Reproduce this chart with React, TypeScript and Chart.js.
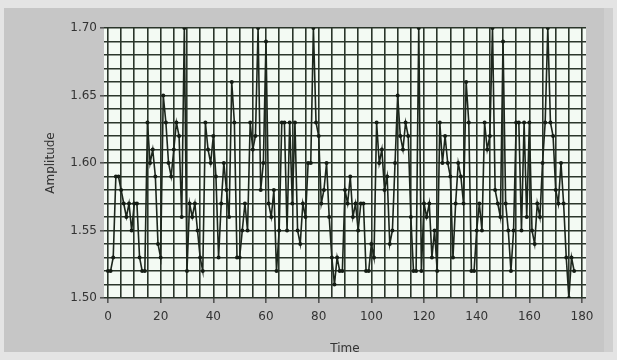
import React, { useEffect, useRef } from "react";
import { Chart, registerables } from "chart.js";

Chart.register(...registerables);

const timeValues: number[] = Array.from({ length: 178 }, (_, i) => i);

const amplitude: number[] = [
  1.52, 1.52, 1.53, 1.59, 1.59, 1.58, 1.57, 1.56, 1.57, 1.55,
  1.57, 1.57, 1.53, 1.52, 1.52, 1.63, 1.60, 1.61, 1.59, 1.54,
  1.53, 1.65, 1.63, 1.60, 1.59, 1.61, 1.63, 1.62, 1.56, 1.70,
  1.52, 1.57, 1.56, 1.57, 1.55, 1.53, 1.52, 1.63, 1.61, 1.60,
  1.62, 1.59, 1.53, 1.57, 1.60, 1.58, 1.56, 1.66, 1.63, 1.53,
  1.53, 1.55, 1.57, 1.55, 1.63, 1.61, 1.62, 1.70, 1.58, 1.60,
  1.69, 1.57, 1.56, 1.58, 1.52, 1.55, 1.63, 1.63, 1.55, 1.63,
  1.57, 1.63, 1.55, 1.54, 1.57, 1.56, 1.60, 1.60, 1.70, 1.63,
  1.62, 1.57, 1.58, 1.60, 1.56, 1.53, 1.51, 1.53, 1.52, 1.52,
  1.58, 1.57, 1.59, 1.56, 1.57, 1.55, 1.57, 1.57, 1.52, 1.52,
  1.54, 1.53, 1.63, 1.60, 1.61, 1.58, 1.59, 1.54, 1.55, 1.60,
  1.65, 1.62, 1.61, 1.63, 1.62, 1.56, 1.52, 1.52, 1.70, 1.52,
  1.57, 1.56, 1.57, 1.53, 1.55, 1.52, 1.63, 1.60, 1.62, 1.60,
  1.59, 1.53, 1.57, 1.60, 1.59, 1.57, 1.66, 1.63, 1.52, 1.52,
  1.55, 1.57, 1.55, 1.63, 1.61, 1.62, 1.70, 1.58, 1.57, 1.56,
  1.69, 1.57, 1.55, 1.52, 1.55, 1.63, 1.63, 1.55, 1.63, 1.56,
  1.63, 1.55, 1.54, 1.57, 1.56, 1.60, 1.63, 1.70, 1.63, 1.62,
  1.58, 1.57, 1.60, 1.57, 1.53, 1.50, 1.53, 1.52,
];

const xMin = -1.5;
const xMax = 181.5;
const xStep = 5;
const xLabelStep = 20;
const yMin = 1.5;
const yMax = 1.7;
const yStep = 0.01;
const yLabelStep = 0.05;

const xTitle = "Time";
const yTitle = "Amplitude";

const isMultiple = (v: number, step: number) => {
  const r = Math.abs(v / step - Math.round(v / step));
  return r < 1e-6;
};

const plotBg = {
  id: "plotBg",
  beforeDraw(chart: any) {
    const { ctx, chartArea } = chart;
    ctx.save();
    ctx.fillStyle = "#f3faf3";
    ctx.fillRect(chartArea.left, chartArea.top, chartArea.right - chartArea.left, chartArea.bottom - chartArea.top);
    ctx.restore();
  },
};

export default function App() {
  const ref = useRef<HTMLCanvasElement>(null);

  useEffect(() => {
    if (!ref.current) return;
    const chart = new Chart(ref.current, {
      type: "line",
      data: {
        datasets: [
          {
            data: timeValues.map((t, i) => ({ x: t, y: amplitude[i] })),
            borderColor: "#1c261c",
            backgroundColor: "#141c14",
            borderWidth: 1.6,
            pointRadius: 2,
            pointBorderWidth: 0,
            tension: 0,
          },
        ],
      },
      options: {
        animation: false,
        responsive: false,
        layout: { padding: { left: 0, right: 31, top: 28, bottom: 0 } },
        plugins: { legend: { display: false }, tooltip: { enabled: false } },
        scales: {
          x: {
            type: "linear",
            min: xMin,
            max: xMax,
            border: { display: false },
            afterFit: (s: any) => {
              s.height = 62;
            },
            ticks: {
              stepSize: xStep,
              includeBounds: false,
              autoSkip: false,
              maxRotation: 0,
              padding: 7,
              color: "#333",
              font: { family: "DejaVu Sans", size: 12 },
              callback: (v: any) => (isMultiple(Number(v), xLabelStep) ? String(Math.round(Number(v))) : ""),
            },
            grid: {
              color: "#2a352a",
              lineWidth: 1.6,
              tickLength: 5,
              tickColor: (c: any) => (c.tick && isMultiple(c.tick.value, xLabelStep) ? "#555" : "rgba(0,0,0,0)"),
            },
            title: {
              display: true,
              text: xTitle,
              color: "#333",
              font: { family: "DejaVu Sans", size: 12 },
              padding: { top: 0, bottom: 4 },
            },
          },
          y: {
            type: "linear",
            min: yMin,
            max: yMax,
            border: { display: false },
            afterFit: (s: any) => {
              s.width = 104;
            },
            ticks: {
              stepSize: yStep,
              includeBounds: false,
              autoSkip: false,
              padding: 3,
              color: "#333",
              font: { family: "DejaVu Sans", size: 12 },
              callback: (v: any) => (isMultiple(Number(v), yLabelStep) ? Number(v).toFixed(2) : ""),
            },
            grid: {
              color: "#2a352a",
              lineWidth: 1.6,
              tickLength: 4,
              tickColor: (c: any) => (c.tick && isMultiple(c.tick.value, yLabelStep) ? "#555" : "rgba(0,0,0,0)"),
            },
            title: {
              display: true,
              text: yTitle,
              color: "#333",
              font: { family: "DejaVu Sans", size: 12 },
              padding: { top: 44, bottom: 0 },
            },
          },
        },
      },
      plugins: [plotBg],
    } as any);
    return () => chart.destroy();
  }, []);

  return (
    <div style={{ position: "fixed", left: 0, top: 0, width: 617, height: 360, background: "#e4e4e4" }}>
      <div
        style={{
          position: "absolute",
          left: 4,
          top: 8,
          width: 600,
          height: 344,
          background: "#c6c6c6",
          borderRight: "9px solid #cfcfcf",
        }}
      />
      <canvas ref={ref} width={617} height={360} style={{ position: "absolute", left: 0, top: 0 }} />
    </div>
  );
}
